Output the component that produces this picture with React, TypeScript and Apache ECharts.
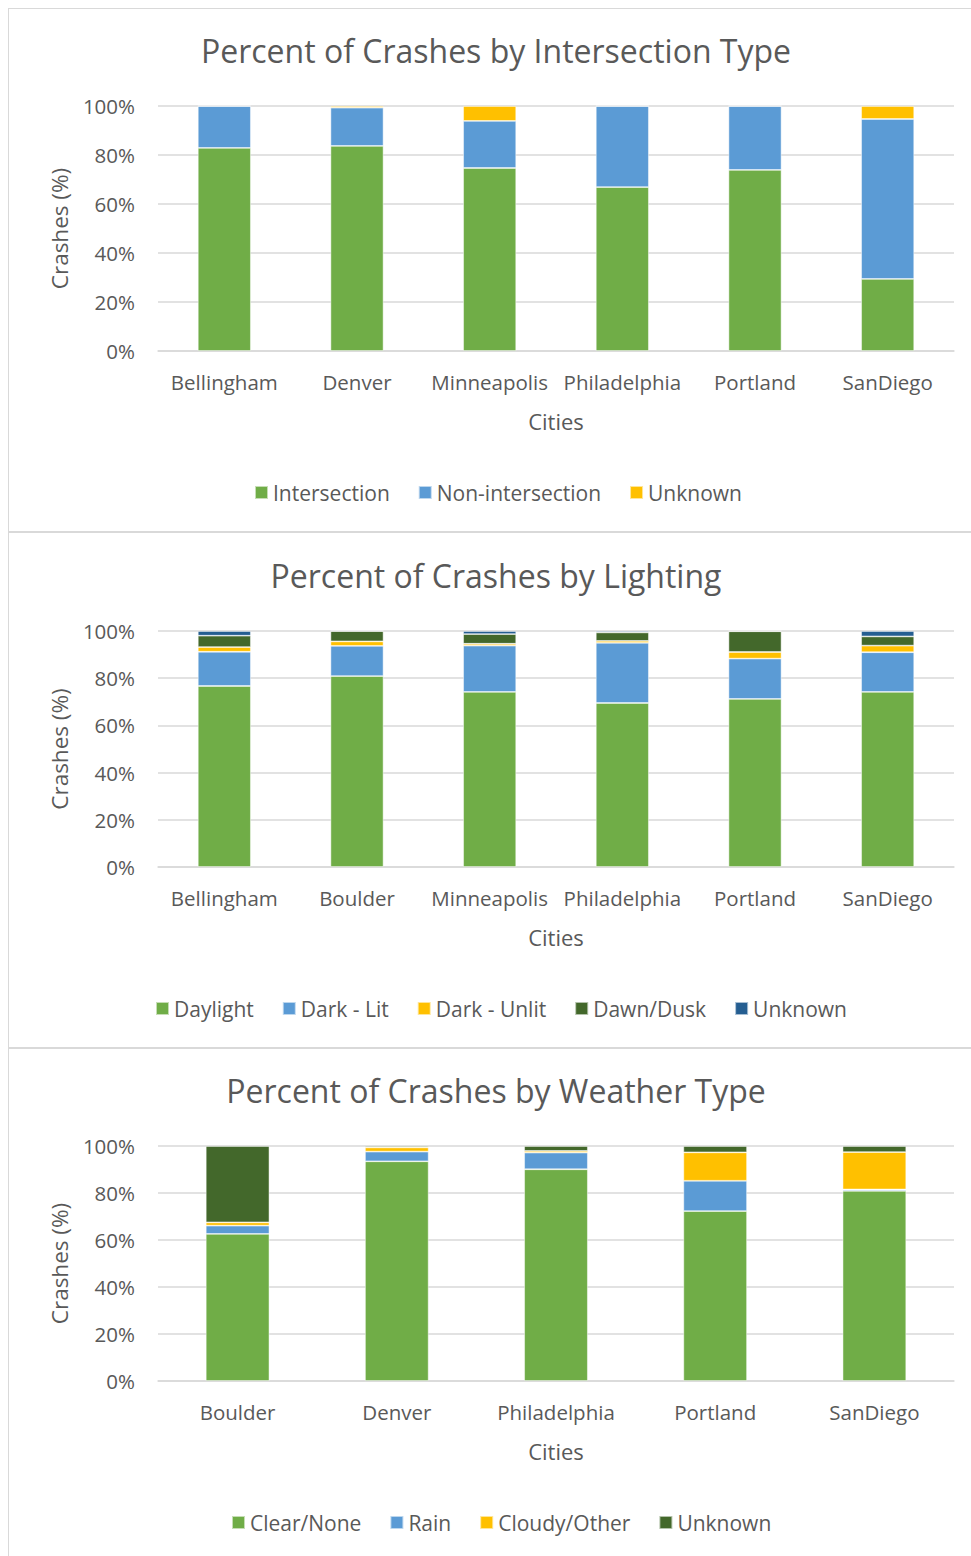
import React, { useEffect, useRef } from "react";
import * as echarts from "echarts";

const FONT = "'Open Sans', sans-serif";
const TXT = "#595959";
const GRID = "#d9d9d9";

const GREEN = "#70AD47";
const BLUE = "#5B9BD5";
const YELLOW = "#FFC000";
const DKGREEN = "#43682B";
const NAVY = "#255E91";

// Chart 1: intersection type
const intersectionCities = ["Bellingham", "Denver", "Minneapolis", "Philadelphia", "Portland", "SanDiego"];
const intersectionVals = [82.9, 83.7, 74.7, 66.9, 73.9, 29.4];
const nonIntersectionVals = [17.1, 15.6, 19.2, 33.1, 26.1, 65.3];
const intersectionUnknownVals = [0, 0.7, 6.1, 0, 0, 5.3];

// Chart 2: lighting
const lightingCities = ["Bellingham", "Boulder", "Minneapolis", "Philadelphia", "Portland", "SanDiego"];
const daylightVals = [76.7, 80.9, 74.2, 69.5, 71.2, 74.2];
const darkLitVals = [14.5, 12.8, 19.6, 25.5, 17.1, 16.8];
const darkUnlitVals = [2.0, 1.9, 0.8, 0.8, 2.8, 2.8];
const dawnDuskVals = [4.8, 4.4, 4.1, 3.6, 8.8, 3.9];
const lightingUnknownVals = [2.0, 0, 1.3, 0.6, 0.1, 2.3];

// Chart 3: weather
const weatherCities = ["Boulder", "Denver", "Philadelphia", "Portland", "SanDiego"];
const clearVals = [62.6, 93.5, 90.1, 72.3, 80.9];
const rainVals = [3.5, 4.1, 7.1, 12.9, 0.6];
const cloudyVals = [1.4, 1.8, 0.7, 12.1, 15.9];
const weatherUnknownVals = [32.5, 0.6, 2.1, 2.7, 2.6];

const yTicks = { min: 0, max: 100, interval: 20 };

type S = { name: string; data: number[]; color: string };

function makeOption(
  title: string,
  cats: string[],
  series: S[],
  gridTop: number,
  gridHeight: number,
  legendTop: number,
  legendLeft: number
) {
  return {
    animation: false,
    textStyle: { fontFamily: FONT },
    title: {
      text: title,
      left: 488,
      top: gridTop - 72,
      padding: 0,
      textAlign: "center",
      textStyle: { fontFamily: FONT, fontSize: 32, fontWeight: "normal", color: TXT },
    },
    legend: {
      top: legendTop,
      left: legendLeft,
      padding: 0,
      icon: "rect",
      itemWidth: 13,
      itemHeight: 13,
      itemGap: 28,
      textStyle: { fontFamily: FONT, fontSize: 21, color: TXT, padding: [0, 0, 0, 0] },
      data: series.map((s) => s.name),
    },
    grid: { left: 150, right: 17, top: gridTop, height: gridHeight, containLabel: false },
    xAxis: {
      type: "category",
      data: cats,
      name: "Cities",
      nameLocation: "middle",
      nameGap: 59,
      nameTextStyle: { fontFamily: FONT, fontSize: 22, color: TXT },
      axisLine: { lineStyle: { color: GRID, width: 1.5 } },
      axisTick: { show: false },
      axisLabel: { fontFamily: FONT, fontSize: 20.5, color: TXT, margin: 20, interval: 0 },
    },
    yAxis: {
      type: "value",
      ...yTicks,
      name: "Crashes (%)",
      nameLocation: "middle",
      nameGap: 87,
      nameTextStyle: { fontFamily: FONT, fontSize: 22.5, color: TXT },
      axisLine: { show: false },
      axisTick: { show: false },
      axisLabel: { fontFamily: FONT, fontSize: 20.5, color: TXT, margin: 23, formatter: "{value}%" },
      splitLine: { lineStyle: { color: GRID, width: 1.5 } },
    },
    series: series.map((s) => ({
      name: s.name,
      type: "bar",
      stack: "total",
      barWidth: "40%",
      data: s.data,
      itemStyle: { color: s.color, borderColor: "rgba(255,255,255,0.6)", borderWidth: 0.8 },
      emphasis: { disabled: true },
    })),
  };
}

function Chart({ option, style }: { option: any; style: React.CSSProperties }) {
  const ref = useRef<HTMLDivElement>(null);
  useEffect(() => {
    if (!ref.current) return;
    const chart = echarts.init(ref.current, undefined, { renderer: "svg" });
    chart.setOption(option);
    return () => chart.dispose();
  }, [option]);
  return <div ref={ref} style={{ position: "absolute", ...style }} />;
}

const opt1 = makeOption(
  "Percent of Crashes by Intersection Type",
  intersectionCities,
  [
    { name: "Intersection", data: intersectionVals, color: GREEN },
    { name: "Non-intersection", data: nonIntersectionVals, color: BLUE },
    { name: "Unknown", data: intersectionUnknownVals, color: YELLOW },
  ],
  98,
  245,
  474,
  246
);

const opt2 = makeOption(
  "Percent of Crashes by Lighting",
  lightingCities,
  [
    { name: "Daylight", data: daylightVals, color: GREEN },
    { name: "Dark - Lit", data: darkLitVals, color: BLUE },
    { name: "Dark - Unlit", data: darkUnlitVals, color: YELLOW },
    { name: "Dawn/Dusk", data: dawnDuskVals, color: DKGREEN },
    { name: "Unknown", data: lightingUnknownVals, color: NAVY },
  ],
  100,
  236,
  467,
  147
);

const opt3 = makeOption(
  "Percent of Crashes by Weather Type",
  weatherCities,
  [
    { name: "Clear/None", data: clearVals, color: GREEN },
    { name: "Rain", data: rainVals, color: BLUE },
    { name: "Cloudy/Other", data: cloudyVals, color: YELLOW },
    { name: "Unknown", data: weatherUnknownVals, color: DKGREEN },
  ],
  99,
  235,
  465,
  223
);

export default function App() {
  const line = (s: React.CSSProperties) => (
    <div style={{ position: "absolute", background: GRID, ...s }} />
  );
  return (
    <div style={{ position: "fixed", left: 0, top: 0, width: 971, height: 1556, background: "#fff", overflow: "hidden" }}>
      <Chart option={opt1} style={{ left: 8, top: 8, width: 963, height: 523 }} />
      <Chart option={opt2} style={{ left: 8, top: 531, width: 963, height: 516 }} />
      <Chart option={opt3} style={{ left: 8, top: 1047, width: 963, height: 509 }} />
      {line({ left: 8, top: 8, width: 963, height: 1 })}
      {line({ left: 8, top: 531, width: 963, height: 2 })}
      {line({ left: 8, top: 1047, width: 963, height: 2 })}
      {line({ left: 8, top: 8, width: 1, height: 1548 })}
    </div>
  );
}
